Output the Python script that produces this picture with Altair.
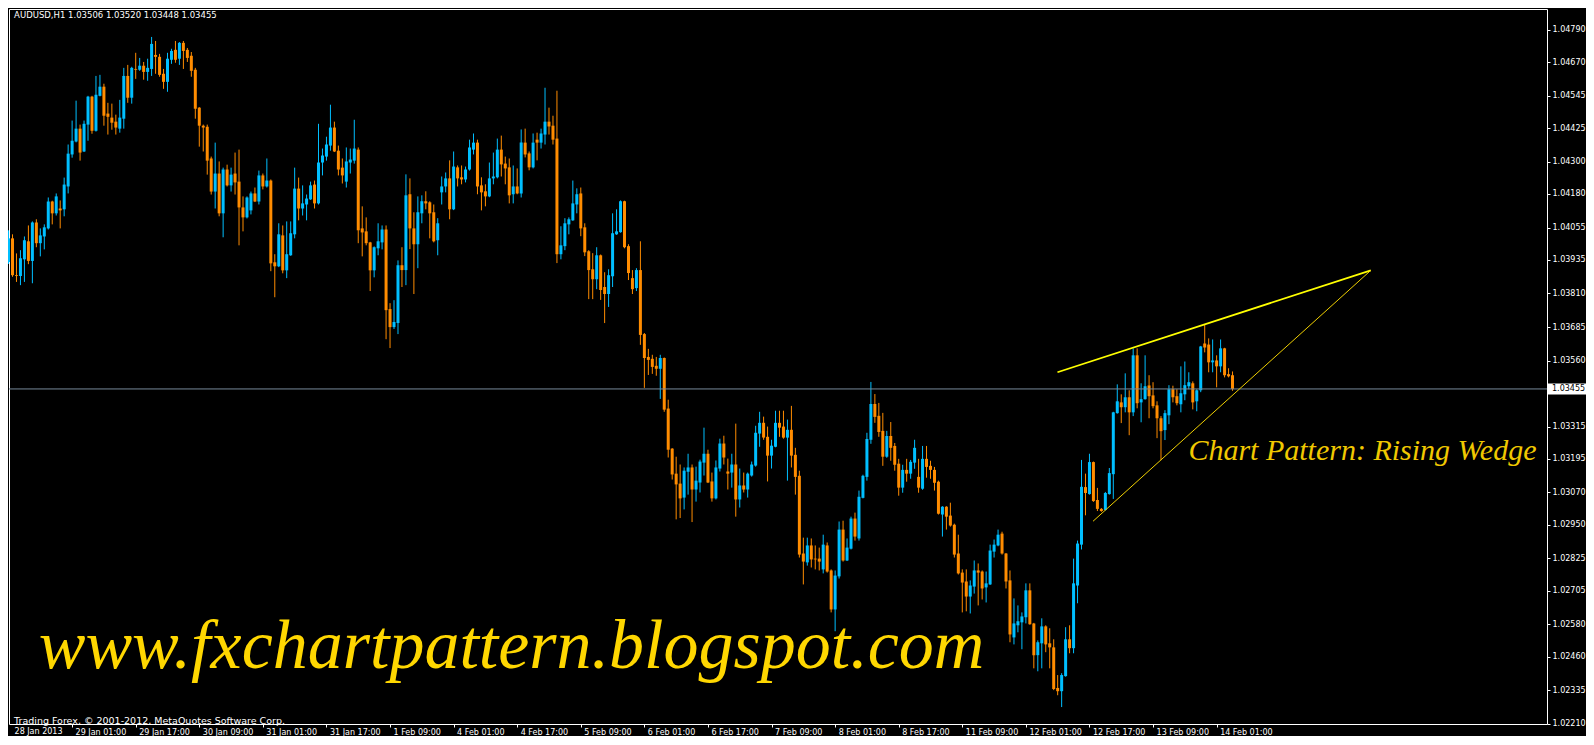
import altair as alt
import pandas as pd

# ---------------- data (AUDUSD H1, bars indexed from 28 Jan 2013 09:00) ----------------
OPEN = [
1.03927,1.04015,1.03878,1.03875,1.03937,1.04004,1.03931,1.04074,1.03997,1.04022,
1.04052,1.04152,1.04108,1.04126,1.04123,1.04208,1.04327,1.04375,1.04423,1.04338,
1.04438,1.04542,1.04415,1.04545,1.04579,1.04479,1.04464,1.04449,1.04423,1.04460,
1.04619,1.04538,1.04645,1.04642,1.04657,1.04634,1.04645,1.04697,1.04690,1.04627,
1.04597,1.04679,1.04716,1.04683,1.04742,1.04716,1.04694,1.04642,1.04501,1.04434,
1.04430,1.04312,1.04189,1.04256,1.04108,1.04271,1.04212,1.04256,1.04226,1.04130,
1.04093,1.04119,1.04182,1.04152,1.04249,1.04208,1.04230,1.03926,1.03911,1.04026,
1.03896,1.03952,1.04030,1.04200,1.04126,1.04141,1.04160,1.04215,1.04145,1.04297,
1.04319,1.04360,1.04427,1.04341,1.04278,1.04226,1.04297,1.04304,1.04345,1.04052,
1.04041,1.04000,1.03896,1.03978,1.04000,1.04048,1.03752,1.03685,1.03700,1.03915,
1.03897,1.04179,1.04052,1.03993,1.04108,1.04153,1.04149,1.04112,1.04008,1.04186,
1.04208,1.04238,1.04123,1.04279,1.04242,1.04234,1.04271,1.04345,1.04371,1.04212,
1.04190,1.04171,1.04238,1.04242,1.04345,1.04293,1.04279,1.04179,1.04208,1.04182,
1.04371,1.04331,1.04279,1.04382,1.04371,1.04401,1.04449,1.04434,1.04386,1.03956,
1.03986,1.04067,1.04082,1.04141,1.04182,1.04056,1.03967,1.03900,1.03863,1.03952,
1.03834,1.03808,1.03874,1.04030,1.04038,1.04153,1.03986,1.03867,1.03830,1.03897,
1.03659,1.03574,1.03567,1.03541,1.03530,1.03570,1.03382,1.03233,1.03140,1.03103,
1.03051,1.03147,1.03163,1.03081,1.03107,1.03181,1.03214,1.03111,1.03048,1.03159,
1.03252,1.03148,1.03144,1.03174,1.03044,1.03096,1.03081,1.03133,1.03170,1.03289,
1.03329,1.03277,1.03207,1.03240,1.03329,1.03315,1.03274,1.03303,1.03210,1.03132,
1.02843,1.02810,1.02873,1.02824,1.02824,1.02784,1.02873,1.02780,1.02635,1.02758,
1.02932,1.02817,1.02861,1.02973,1.02899,1.03050,1.03128,1.03266,1.03399,1.03355,
1.03299,1.03203,1.03280,1.03243,1.03177,1.03088,1.03154,1.03140,1.03181,1.03128,
1.03084,1.03195,1.03169,1.03154,1.03110,1.02988,1.03017,1.02984,1.02950,1.02843,
1.02772,1.02739,1.02683,1.02720,1.02780,1.02776,1.02717,1.02728,1.02850,1.02873,
1.02917,1.02843,1.02743,1.02531,1.02576,1.02587,1.02606,1.02706,1.02583,1.02465,
1.02509,1.02572,1.02509,1.02494,1.02343,1.02331,1.02387,1.02524,1.02491,1.02724,
1.02876,1.03090,1.03064,1.03183,1.03042,1.03009,1.03005,1.03064,1.03138,1.03365,
1.03405,1.03387,1.03424,1.03368,1.03580,1.03405,1.03417,1.03468,1.03431,1.03394,
1.03346,1.03302,1.03357,1.03454,1.03428,1.03398,1.03435,1.03465,1.03476,1.03409,
1.03450,1.03624,1.03620,1.03554,1.03561,1.03539,1.03606,1.03510,1.03506]

HIGH = [
1.04045,1.04030,1.03959,1.03971,1.04022,1.04063,1.04078,1.04086,1.04052,1.04067,
1.04167,1.04155,1.04182,1.04156,1.04241,1.04364,1.04453,1.04527,1.04438,1.04453,
1.04545,1.04545,1.04619,1.04623,1.04590,1.04519,1.04516,1.04475,1.04530,1.04649,
1.04660,1.04653,1.04705,1.04686,1.04671,1.04683,1.04764,1.04749,1.04701,1.04645,
1.04705,1.04720,1.04749,1.04745,1.04749,1.04723,1.04708,1.04649,1.04503,1.04438,
1.04438,1.04319,1.04371,1.04301,1.04278,1.04289,1.04278,1.04334,1.04345,1.04171,
1.04171,1.04189,1.04204,1.04267,1.04256,1.04312,1.04234,1.03956,1.04071,1.04063,
1.04078,1.04078,1.04278,1.04241,1.04212,1.04178,1.04226,1.04230,1.04441,1.04349,
1.04393,1.04512,1.04449,1.04360,1.04312,1.04353,1.04349,1.04456,1.04353,1.04134,
1.04093,1.04002,1.03985,1.04071,1.04063,1.04063,1.03774,1.03785,1.03933,1.03982,
1.04253,1.04238,1.04112,1.04171,1.04175,1.04190,1.04153,1.04141,1.04090,1.04245,
1.04260,1.04305,1.04338,1.04286,1.04286,1.04282,1.04382,1.04405,1.04382,1.04242,
1.04216,1.04297,1.04334,1.04386,1.04397,1.04319,1.04312,1.04286,1.04275,1.04420,
1.04423,1.04338,1.04405,1.04408,1.04423,1.04575,1.04501,1.04471,1.04564,1.04060,
1.04090,1.04093,1.04230,1.04201,1.04204,1.04071,1.03971,1.03960,1.03982,1.03955,
1.03889,1.03900,1.04108,1.04123,1.04156,1.04155,1.03993,1.03897,1.03904,1.04004,
1.03663,1.03604,1.03582,1.03574,1.03582,1.03572,1.03415,1.03235,1.03203,1.03174,
1.03163,1.03214,1.03174,1.03166,1.03192,1.03311,1.03229,1.03144,1.03189,1.03270,
1.03281,1.03196,1.03214,1.03326,1.03159,1.03144,1.03144,1.03185,1.03318,1.03370,
1.03352,1.03315,1.03266,1.03374,1.03374,1.03374,1.03341,1.03392,1.03236,1.03151,
1.02902,1.02902,1.02899,1.02873,1.02865,1.02913,1.02884,1.02784,1.02780,1.02962,
1.02965,1.02899,1.02980,1.02995,1.03077,1.03136,1.03292,1.03481,1.03436,1.03403,
1.03366,1.03299,1.03332,1.03254,1.03195,1.03173,1.03195,1.03191,1.03266,1.03195,
1.03243,1.03243,1.03188,1.03165,1.03114,1.03019,1.03019,1.03032,1.02954,1.02913,
1.02784,1.02784,1.02743,1.02817,1.02806,1.02780,1.02776,1.02876,1.02895,1.02932,
1.02924,1.02845,1.02780,1.02676,1.02650,1.02624,1.02732,1.02732,1.02585,1.02520,
1.02602,1.02576,1.02565,1.02524,1.02391,1.02398,1.02569,1.02576,1.02824,1.02891,
1.03191,1.03140,1.03214,1.03185,1.03087,1.03012,1.03072,1.03161,1.03370,1.03472,
1.03435,1.03513,1.03450,1.03606,1.03606,1.03476,1.03580,1.03506,1.03480,1.03409,
1.03354,1.03376,1.03469,1.03467,1.03454,1.03539,1.03557,1.03517,1.03483,1.03454,
1.03615,1.03695,1.03643,1.03639,1.03580,1.03639,1.03608,1.03532,1.03520]

LOW = [
1.03920,1.03872,1.03853,1.03841,1.03853,1.03919,1.03848,1.03982,1.03948,1.03974,
1.04048,1.04067,1.04100,1.04052,1.04097,1.04182,1.04315,1.04372,1.04304,1.04336,
1.04378,1.04404,1.04412,1.04543,1.04434,1.04401,1.04419,1.04401,1.04408,1.04423,
1.04519,1.04516,1.04608,1.04638,1.04605,1.04601,1.04619,1.04627,1.04616,1.04571,
1.04560,1.04664,1.04668,1.04660,1.04645,1.04671,1.04616,1.04460,1.04356,1.04338,
1.04252,1.04178,1.04126,1.04097,1.04019,1.04208,1.04189,1.04178,1.03989,1.04041,
1.04089,1.04104,1.04150,1.04141,1.04197,1.04204,1.03893,1.03796,1.03908,1.03885,
1.03867,1.03950,1.04015,1.04082,1.04100,1.04082,1.04158,1.04126,1.04141,1.04249,
1.04304,1.04341,1.04336,1.04249,1.04219,1.04204,1.04256,1.04293,1.03997,1.03948,
1.03989,1.03819,1.03870,1.03952,1.03974,1.03640,1.03607,1.03678,1.03659,1.03834,
1.03841,1.03975,1.03808,1.03904,1.04071,1.04123,1.04015,1.04000,1.03952,1.04141,
1.04186,1.04086,1.04120,1.04208,1.04216,1.04223,1.04267,1.04327,1.04179,1.04119,
1.04134,1.04168,1.04216,1.04238,1.04245,1.04216,1.04145,1.04145,1.04179,1.04167,
1.04316,1.04268,1.04275,1.04305,1.04349,1.04364,1.04401,1.04364,1.03923,1.03937,
1.03971,1.04030,1.04080,1.04108,1.04023,1.03949,1.03789,1.03789,1.03826,1.03786,
1.03700,1.03760,1.03834,1.04028,1.04036,1.03978,1.03860,1.03808,1.03819,1.03619,
1.03459,1.03507,1.03511,1.03504,1.03418,1.03370,1.03200,1.03118,1.02970,1.02975,
1.03007,1.03062,1.02960,1.03036,1.03070,1.03133,1.03105,1.03036,1.03044,1.03148,
1.03174,1.03081,1.03088,1.02980,1.03014,1.03070,1.03051,1.03129,1.03166,1.03240,
1.03266,1.03111,1.03159,1.03238,1.03277,1.03270,1.03114,1.03163,1.03062,1.02828,
1.02728,1.02798,1.02791,1.02784,1.02780,1.02769,1.02772,1.02624,1.02554,1.02750,
1.02813,1.02815,1.02858,1.02891,1.02891,1.03048,1.03114,1.03251,1.03329,1.03277,
1.03169,1.03199,1.03188,1.03151,1.03058,1.03069,1.03110,1.03121,1.03158,1.03069,
1.03080,1.03125,1.03121,1.03077,1.02988,1.02906,1.02932,1.02943,1.02828,1.02765,
1.02624,1.02628,1.02620,1.02694,1.02650,1.02672,1.02661,1.02726,1.02828,1.02870,
1.02839,1.02713,1.02513,1.02505,1.02550,1.02487,1.02583,1.02578,1.02416,1.02405,
1.02416,1.02476,1.02416,1.02335,1.02316,1.02272,1.02385,1.02472,1.02472,1.02658,
1.02858,1.02985,1.03062,1.03035,1.03001,1.02998,1.03003,1.03062,1.03046,1.03363,
1.03328,1.03368,1.03283,1.03354,1.03383,1.03331,1.03415,1.03346,1.03383,1.03272,
1.03190,1.03265,1.03324,1.03405,1.03394,1.03368,1.03413,1.03454,1.03379,1.03372,
1.03443,1.03591,1.03517,1.03517,1.03461,1.03517,1.03498,1.03498,1.03448]

CLOSE = [
1.04015,1.03878,1.03875,1.03941,1.04008,1.03931,1.04074,1.03997,1.04026,1.04056,
1.04152,1.04108,1.04171,1.04119,1.04215,1.04330,1.04378,1.04423,1.04334,1.04441,
1.04542,1.04415,1.04549,1.04579,1.04471,1.04467,1.04445,1.04427,1.04464,1.04619,
1.04538,1.04649,1.04642,1.04657,1.04634,1.04649,1.04738,1.04690,1.04623,1.04597,
1.04683,1.04712,1.04679,1.04742,1.04712,1.04686,1.04638,1.04497,1.04434,1.04427,
1.04304,1.04189,1.04256,1.04108,1.04271,1.04212,1.04252,1.04223,1.04130,1.04093,
1.04167,1.04182,1.04152,1.04249,1.04208,1.04230,1.03922,1.03911,1.04030,1.03896,
1.03956,1.04034,1.04200,1.04126,1.04145,1.04163,1.04212,1.04145,1.04297,1.04323,
1.04364,1.04427,1.04338,1.04271,1.04249,1.04301,1.04308,1.04349,1.04045,1.04037,
1.03997,1.03896,1.03982,1.04004,1.04048,1.03748,1.03685,1.03704,1.03915,1.03897,
1.04175,1.04052,1.03993,1.04112,1.04153,1.04145,1.04108,1.04004,1.04071,1.04208,
1.04238,1.04123,1.04282,1.04238,1.04234,1.04271,1.04353,1.04371,1.04208,1.04186,
1.04171,1.04238,1.04245,1.04345,1.04290,1.04275,1.04175,1.04208,1.04182,1.04371,
1.04327,1.04279,1.04371,1.04371,1.04405,1.04449,1.04431,1.04382,1.03956,1.03989,
1.04071,1.04086,1.04145,1.04179,1.04052,1.03963,1.03897,1.03863,1.03952,1.03823,
1.03808,1.03878,1.04034,1.04041,1.04153,1.03982,1.03886,1.03826,1.03897,1.03656,
1.03570,1.03563,1.03537,1.03530,1.03570,1.03378,1.03229,1.03137,1.03100,1.03048,
1.03151,1.03163,1.03081,1.03114,1.03185,1.03214,1.03107,1.03048,1.03163,1.03252,
1.03200,1.03140,1.03174,1.03044,1.03096,1.03081,1.03140,1.03174,1.03292,1.03329,
1.03274,1.03207,1.03244,1.03329,1.03311,1.03274,1.03303,1.03207,1.03128,1.02839,
1.02813,1.02873,1.02821,1.02821,1.02813,1.02876,1.02776,1.02635,1.02761,1.02932,
1.02817,1.02865,1.02973,1.02906,1.03054,1.03132,1.03269,1.03399,1.03351,1.03295,
1.03203,1.03280,1.03236,1.03173,1.03088,1.03154,1.03140,1.03184,1.03236,1.03088,
1.03195,1.03165,1.03154,1.03106,1.02991,1.03017,1.02980,1.02947,1.02839,1.02769,
1.02735,1.02683,1.02724,1.02780,1.02772,1.02713,1.02732,1.02854,1.02876,1.02913,
1.02843,1.02739,1.02542,1.02583,1.02591,1.02609,1.02706,1.02580,1.02465,1.02513,
1.02572,1.02505,1.02494,1.02339,1.02331,1.02391,1.02524,1.02491,1.02732,1.02880,
1.03091,1.03068,1.03183,1.03038,1.03009,1.03001,1.03068,1.03142,1.03368,1.03409,
1.03387,1.03424,1.03368,1.03580,1.03402,1.03417,1.03465,1.03428,1.03391,1.03346,
1.03298,1.03365,1.03454,1.03424,1.03402,1.03439,1.03469,1.03480,1.03405,1.03450,
1.03613,1.03609,1.03554,1.03561,1.03539,1.03606,1.03506,1.03502,1.03455]

TIME_LABELS = ["28 Jan 2013", "29 Jan 01:00", "29 Jan 17:00", "30 Jan 09:00", "31 Jan 01:00",
               "31 Jan 17:00", "1 Feb 09:00", "4 Feb 01:00", "4 Feb 17:00", "5 Feb 09:00",
               "6 Feb 01:00", "6 Feb 17:00", "7 Feb 09:00", "8 Feb 01:00", "8 Feb 17:00",
               "11 Feb 09:00", "12 Feb 01:00", "12 Feb 17:00", "13 Feb 09:00", "14 Feb 01:00"]
TIME_LABEL_BARS = [0, 16, 32, 48, 64, 80, 96, 112, 128, 144, 160, 176, 192, 208, 224, 240, 256, 272, 288, 304]

# price scale labels (1.03440 sits under the current-price box)
PRICE_TICKS = [1.04790, 1.04670, 1.04545, 1.04425, 1.04300, 1.04180, 1.04055, 1.03935, 1.03810,
               1.03685, 1.03560, 1.03315, 1.03195, 1.03070, 1.02950, 1.02825, 1.02705,
               1.02580, 1.02460, 1.02335, 1.02210]
LAST_PRICE = 1.03455

# wedge trend lines (bar index, price)
UPPER_LINE_BAR = [263.95, 342.8]
UPPER_LINE_PRICE = [1.03517, 1.03896]
LOWER_LINE_BAR = [272.9, 342.8]
LOWER_LINE_PRICE = [1.02963, 1.03896]

HEADER = "AUDUSD,H1  1.03506 1.03520 1.03448 1.03455"
COPYRIGHT = "Trading Forex, \u00a9 2001-2012, MetaQuotes Software Corp."
URL_TEXT = "www.fxchartpattern.blogspot.com"
PATTERN_TEXT = "Chart Pattern: Rising Wedge"

# ---------------- chart ----------------
UP, DOWN = "#00BFFF", "#FF8C00"
WHITE = "#FFFFFF"
UI_FONT = "DejaVu Sans"
PLOT_W, PLOT_H = 1538, 715
X_DOMAIN = [1.375, 1.375 + PLOT_W / 4.0]
Y_DOMAIN = [1.02209, 1.048679]
xs = alt.Scale(domain=X_DOMAIN, nice=False, zero=False)
ys = alt.Scale(domain=Y_DOMAIN, nice=False, zero=False)

df = pd.DataFrame({"bar": list(range(len(OPEN))), "open": OPEN, "high": HIGH,
                   "low": LOW, "close": CLOSE})
df["dir"] = ["up" if c >= o else "down" for o, c in zip(OPEN, CLOSE)]

label_expr = "[" + ",".join("'%s'" % s for s in TIME_LABELS) + "][round(datum.value / 16)]"
x_axis = alt.Axis(values=TIME_LABEL_BARS[1:], labelExpr=label_expr, title=None, grid=False,
                  domain=False, ticks=True, tickSize=3, labelAlign="left",
                  labelBaseline="top", labelPadding=1, labelOffset=3,
                  labelFlush=False, labelOverlap=False, labelColor=WHITE, tickColor=WHITE,
                  labelFont=UI_FONT, labelFontSize=8)
y_axis = alt.Axis(orient="right", values=PRICE_TICKS, format=".5f", title=None, grid=False,
                  domain=False, ticks=True, tickSize=3, labelPadding=2,
                  labelFlush=False, labelOverlap=False, labelBaseline="middle",
                  labelAlign="left", labelColor=WHITE, tickColor=WHITE,
                  labelFont=UI_FONT, labelFontSize=8)


def X(field):
    return alt.X(field, scale=xs, axis=x_axis)


def Y(field):
    return alt.Y(field, scale=ys, axis=y_axis)


color = alt.Color("dir:N", scale=alt.Scale(domain=["up", "down"], range=[UP, DOWN]), legend=None)
base = alt.Chart(df)

wicks = base.mark_rule(strokeWidth=1).encode(x=X("bar:Q"), y=Y("low:Q"), y2="high:Q", color=color)
bodies = base.mark_bar(size=3).encode(x=X("bar:Q"), y=Y("open:Q"), y2="close:Q", color=color)

price_df = pd.DataFrame({"price": [LAST_PRICE], "label": ["%.5f" % LAST_PRICE]})
price_line = alt.Chart(price_df).mark_rule(color="#778899", strokeWidth=1).encode(y=Y("price:Q"))

upper_df = pd.DataFrame({"x1": [UPPER_LINE_BAR[0]], "x2": [UPPER_LINE_BAR[1]],
                         "y1": [UPPER_LINE_PRICE[0]], "y2": [UPPER_LINE_PRICE[1]]})
lower_df = pd.DataFrame({"x1": [LOWER_LINE_BAR[0]], "x2": [LOWER_LINE_BAR[1]],
                         "y1": [LOWER_LINE_PRICE[0]], "y2": [LOWER_LINE_PRICE[1]]})
upper = alt.Chart(upper_df).mark_rule(color="#FFFF00", strokeWidth=1.7).encode(
    x=X("x1:Q"), x2="x2:Q", y=Y("y1:Q"), y2="y2:Q")
lower = alt.Chart(lower_df).mark_rule(color="#F0D000", strokeWidth=1).encode(
    x=X("x1:Q"), x2="x2:Q", y=Y("y1:Q"), y2="y2:Q")


def text_layer(bar, price, text, **kw):
    d = pd.DataFrame({"bar": [bar], "price": [price], "text": [text]})
    return alt.Chart(d).mark_text(**kw).encode(x=X("bar:Q"), y=Y("price:Q"), text="text:N")


url = text_layer(7.6, 1.02417, URL_TEXT, align="left", baseline="alphabetic",
                 font="Liberation Serif", fontStyle="italic", fontSize=70, color="#FFD700")
pattern = text_layer(296.9, 1.03190, PATTERN_TEXT, align="left", baseline="alphabetic",
                     font="Liberation Serif", fontStyle="italic", fontSize=30, color="#F0C800")
header = text_layer(1.4, 1.04861, HEADER, align="left", baseline="top",
                    font=UI_FONT, fontSize=8.5, color=WHITE)
copyright_t = text_layer(1.4, 1.02222, COPYRIGHT, align="left", baseline="middle",
                         font=UI_FONT, fontSize=9.5, color=WHITE)
first_label = text_layer(TIME_LABEL_BARS[0], 1.02194, TIME_LABELS[0], align="left",
                         baseline="top", dx=6, font=UI_FONT, fontSize=8, color=WHITE)

price_box = alt.Chart(price_df).mark_rule(color=WHITE, strokeWidth=11, strokeCap="butt").encode(
    x=alt.value(PLOT_W), x2=alt.value(PLOT_W + 60), y=Y("price:Q"))
price_box_text = alt.Chart(price_df).mark_text(align="left", baseline="middle",
                                               font=UI_FONT, fontSize=8,
                                               color="#000000").encode(
    x=alt.value(PLOT_W + 5), y=Y("price:Q"), text="label:N")

chart = alt.layer(
    wicks, bodies, price_line, upper, lower, url, pattern, header, copyright_t,
    first_label, price_box, price_box_text
).properties(
    width=PLOT_W, height=PLOT_H,
    autosize=alt.AutoSizeParams(type="none"),
    padding={"left": 1, "top": 1, "right": 39, "bottom": 12},
).configure(
    background="#000000"
).configure_view(
    stroke=WHITE, strokeWidth=1
)

chart.save("out.html", embed_options={"renderer": "svg", "actions": False})
